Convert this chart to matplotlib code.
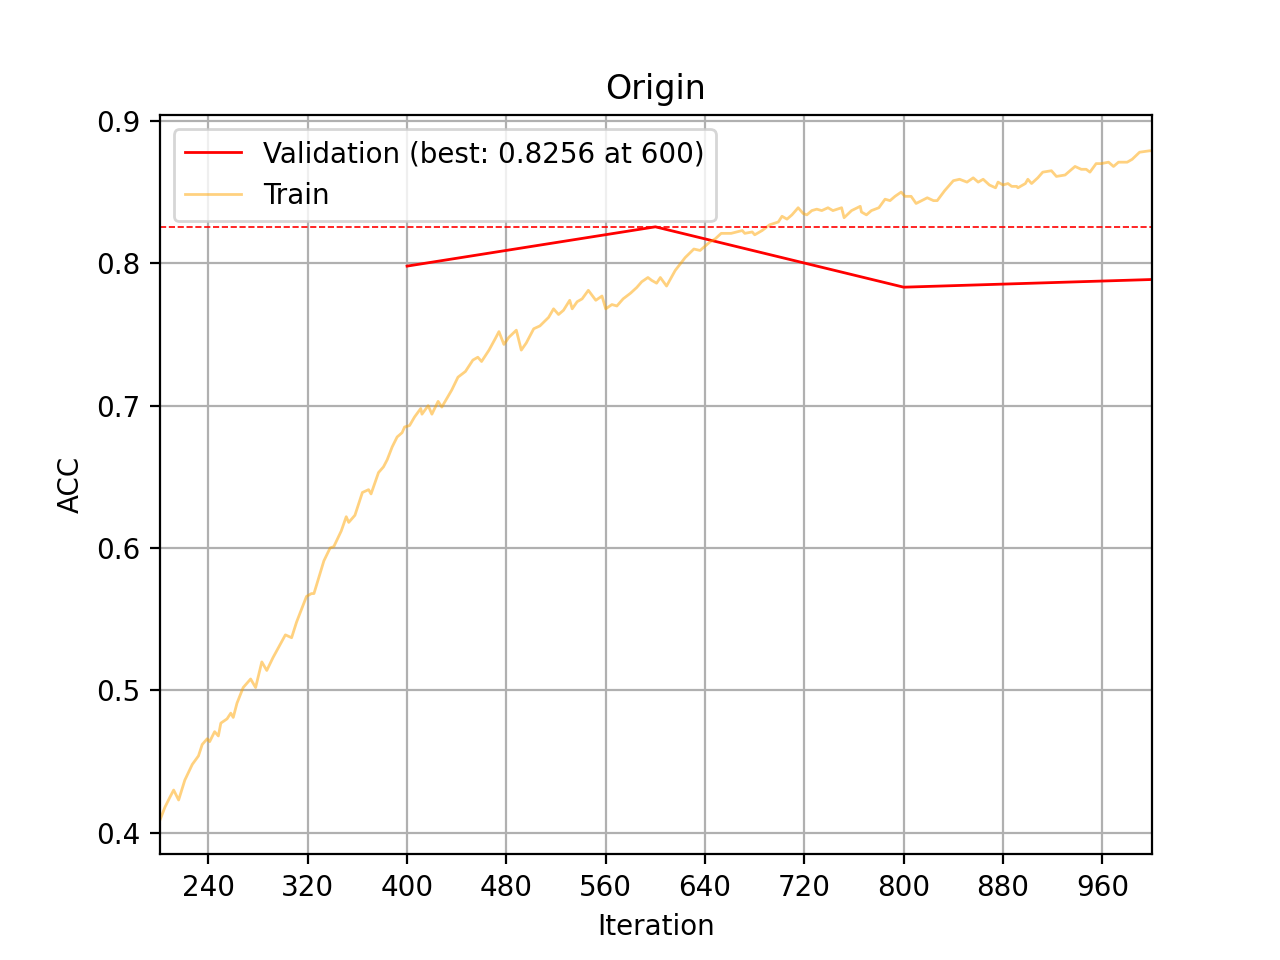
import numpy as np
from matplotlib import pyplot as plt

# train accuracy
train_iter = [201, 205, 209, 212, 216, 221, 227, 232, 235, 239, 241, 245, 248, 250, 255, 258, 260, 263,
              268, 274, 278, 283, 287, 292, 302, 307, 311, 319, 323, 325, 333, 338, 341, 347, 351, 353,
              358, 364, 369, 371, 377, 381, 384, 388, 392, 396, 398, 402, 406, 411, 412, 417, 420, 425,
              428, 436, 441, 447, 453, 457, 460, 466, 471, 474, 478, 482, 488, 492, 496, 502, 507, 514,
              518, 522, 526, 531, 533, 537, 541, 546, 552, 557, 560, 565, 569, 574, 580, 585, 589, 594,
              597, 601, 604, 609, 616, 624, 631, 636, 640, 644, 648, 653, 661, 670, 672, 678, 680, 686,
              692, 699, 702, 706, 710, 715, 719, 722, 726, 730, 734, 739, 743, 750, 752, 758, 765, 766,
              770, 774, 780, 785, 789, 793, 798, 801, 806, 810, 819, 824, 827, 833, 840, 845, 851, 856,
              860, 864, 869, 874, 876, 880, 884, 887, 891, 892, 898, 900, 903, 908, 912, 919, 923, 930,
              938, 943, 947, 950, 955, 959, 965, 969, 973, 980, 984, 990, 998, 1000]
train_acc = [0.409, 0.418, 0.425, 0.430, 0.423, 0.437, 0.448, 0.454, 0.462, 0.466, 0.464, 0.471, 0.468,
             0.477, 0.480, 0.484, 0.481, 0.491, 0.502, 0.508, 0.502, 0.520, 0.514, 0.523, 0.539, 0.537,
             0.548, 0.566, 0.568, 0.568, 0.591, 0.600, 0.601, 0.612, 0.622, 0.618, 0.623, 0.639, 0.641,
             0.638, 0.653, 0.657, 0.662, 0.671, 0.678, 0.681, 0.685, 0.686, 0.692, 0.698, 0.694, 0.700,
             0.694, 0.703, 0.699, 0.711, 0.720, 0.724, 0.732, 0.734, 0.731, 0.739, 0.747, 0.752, 0.743,
             0.748, 0.753, 0.739, 0.744, 0.754, 0.756, 0.762, 0.768, 0.764, 0.767, 0.774, 0.768, 0.773,
             0.775, 0.781, 0.774, 0.777, 0.768, 0.771, 0.770, 0.775, 0.779, 0.783, 0.787, 0.790, 0.788,
             0.786, 0.790, 0.784, 0.795, 0.804, 0.810, 0.809, 0.812, 0.815, 0.817, 0.821, 0.821, 0.823,
             0.821, 0.822, 0.820, 0.823, 0.827, 0.829, 0.833, 0.831, 0.834, 0.839, 0.835, 0.834, 0.837,
             0.838, 0.837, 0.839, 0.837, 0.839, 0.832, 0.837, 0.840, 0.836, 0.834, 0.837, 0.839, 0.845,
             0.844, 0.847, 0.850, 0.847, 0.847, 0.842, 0.846, 0.844, 0.844, 0.851, 0.858, 0.859, 0.857,
             0.860, 0.857, 0.859, 0.855, 0.853, 0.857, 0.855, 0.856, 0.854, 0.854, 0.853, 0.856, 0.859,
             0.856, 0.860, 0.864, 0.865, 0.861, 0.862, 0.868, 0.866, 0.866, 0.864, 0.870, 0.870, 0.871,
             0.868, 0.871, 0.871, 0.873, 0.878, 0.879, 0.879]

val_iter = [400, 600, 800, 1000]
val_acc = [0.7980, 0.8256, 0.7832, 0.7886]

best = int(np.argmax(val_acc))

plt.figure(figsize=(6.4, 4.8), dpi=200)
plt.plot(val_iter, val_acc, color='red', lw=1,
         label="Validation (best: %.4f at %d)" % (val_acc[best], val_iter[best]))
plt.plot(train_iter, train_acc, color='orange', alpha=0.5, lw=1, label="Train")
plt.axhline(val_acc[best], color='red', ls='--', lw=0.6)
plt.title("Origin")
plt.xlabel("Iteration")
plt.ylabel("ACC")
plt.xticks(np.arange(240, 1000, 80))
plt.xlim(201, 1000)
plt.ylim(0.3848, 0.904)
plt.grid(True)
plt.legend(loc='upper left')
plt.savefig("out.png")
